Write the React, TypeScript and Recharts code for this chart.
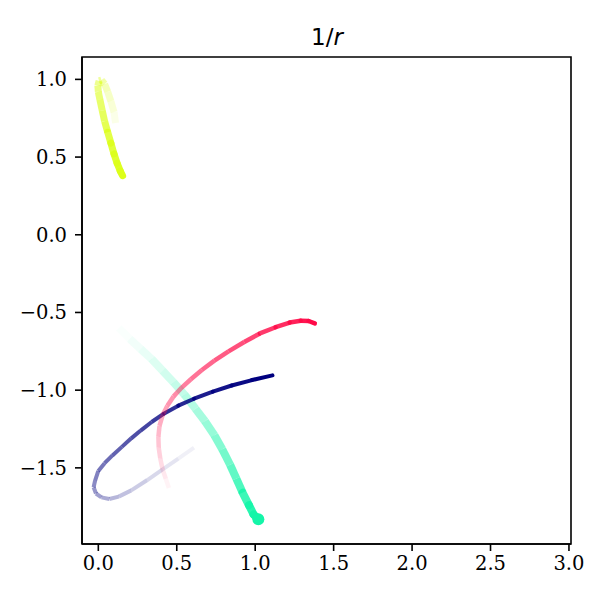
import React from 'react';
import { ComposedChart, Line, Scatter, XAxis, YAxis, ReferenceArea } from 'recharts';

// axis ticks
const xTicks = [0, 0.5, 1, 1.5, 2, 2.5, 3];
const yTicks = [-1.5, -1, -0.5, 0, 0.5, 1];

// trails, oldest point first, head last
const tealX = [0.13, 0.2, 0.27, 0.34, 0.41, 0.48, 0.55, 0.62, 0.68, 0.74, 0.79, 0.84, 0.88, 0.92, 0.96, 0.99, 1.02];
const tealY = [-0.6, -0.67, -0.735, -0.8, -0.875, -0.95, -1.03, -1.12, -1.2, -1.29, -1.38, -1.48, -1.57, -1.66, -1.74, -1.8, -1.83];

const navyX = [0.61, 0.51, 0.41, 0.31, 0.21, 0.13, 0.07, 0.02, -0.015, -0.03, -0.02, 0.0, 0.04, 0.09, 0.15, 0.21, 0.27, 0.34, 0.42, 0.51, 0.61, 0.73, 0.85, 0.98, 1.11];
const navyY = [-1.37, -1.44, -1.51, -1.58, -1.645, -1.685, -1.7, -1.69, -1.665, -1.625, -1.58, -1.52, -1.47, -1.42, -1.365, -1.31, -1.26, -1.205, -1.15, -1.1, -1.055, -1.01, -0.97, -0.935, -0.905];

const redX = [0.45, 0.43, 0.41, 0.395, 0.385, 0.383, 0.39, 0.41, 0.44, 0.48, 0.53, 0.59, 0.66, 0.74, 0.83, 0.93, 1.03, 1.13, 1.22, 1.29, 1.34, 1.38];
const redY = [-1.63, -1.57, -1.51, -1.44, -1.37, -1.3, -1.23, -1.16, -1.1, -1.04, -0.985, -0.93, -0.87, -0.81, -0.75, -0.69, -0.635, -0.595, -0.565, -0.553, -0.555, -0.57];

const yellowX = [0.11, 0.1, 0.08, 0.06, 0.04, 0.02, 0.005, -0.003, 0.0, 0.01, 0.025, 0.04, 0.06, 0.08, 0.1, 0.12, 0.14, 0.155];
const yellowY = [0.72, 0.79, 0.86, 0.92, 0.97, 0.995, 0.99, 0.96, 0.92, 0.87, 0.8, 0.73, 0.66, 0.59, 0.52, 0.46, 0.41, 0.38];

const trails = [
  { name: 'teal', xs: tealX, ys: tealY, color: '#14f5a8', width: 8, fade: 1.4 },
  { name: 'navy', xs: navyX, ys: navyY, color: '#00007f', width: 4, fade: 0.9 },
  { name: 'red', xs: redX, ys: redY, color: '#ff0a48', width: 4.5, fade: 1.0 },
  { name: 'yellow', xs: yellowX, ys: yellowY, color: '#dcff1a', width: 7, fade: 0.8 },
];

const X_DOMAIN: [number, number] = [-0.104, 3.013];
const Y_DOMAIN: [number, number] = [-1.99, 1.144];

const fmt = (v: number) => v.toFixed(1).replace('-', '\u2212');

const tickStyle = { fontFamily: 'DejaVu Serif', fontSize: 19.5, fill: '#000' };

const App: React.FC = () => {
  const segments: React.ReactNode[] = [];
  trails.forEach((t) => {
    const n = t.xs.length;
    for (let i = 0; i < n - 1; i++) {
      const alpha = Math.pow((i + 1) / (n - 1), t.fade);
      segments.push(
        <Line
          key={`${t.name}-${i}`}
          data={[
            { x: t.xs[i], y: t.ys[i] },
            { x: t.xs[i + 1], y: t.ys[i + 1] },
          ]}
          dataKey="y"
          type="linear"
          stroke={t.color}
          strokeOpacity={alpha}
          strokeWidth={t.width}
          strokeLinecap={alpha > 0.8 ? 'round' : 'butt'}
          dot={false}
          activeDot={false}
          isAnimationActive={false}
          legendType="none"
        />
      );
    }
  });

  return (
    <div style={{ position: 'absolute', left: 0, top: 0, width: 600, height: 600, background: '#fff' }}>
      <svg width={600} height={60} style={{ position: 'absolute', left: 0, top: 0 }}>
        <text x={327} y={45} textAnchor="middle" fontFamily="DejaVu Sans" fontSize={23} fill="#000">
          1/<tspan fontStyle="italic">r</tspan>
        </text>
      </svg>
      <div style={{ position: 'absolute', left: 0, top: 0 }}>
        <ComposedChart width={600} height={600} margin={{ top: 57, right: 29, bottom: 26, left: 0 }}>
          <XAxis
            dataKey="x"
            type="number"
            domain={X_DOMAIN}
            ticks={xTicks}
            tickFormatter={fmt}
            allowDataOverflow
            height={30}
            tickSize={7}
            tickMargin={5}
            tick={tickStyle}
            axisLine={{ stroke: '#000', strokeWidth: 1.6 }}
            tickLine={{ stroke: '#000', strokeWidth: 1.6 }}
          />
          <YAxis
            dataKey="y"
            type="number"
            domain={Y_DOMAIN}
            ticks={yTicks}
            tickFormatter={fmt}
            allowDataOverflow
            width={82}
            tickSize={7}
            tickMargin={8}
            tick={tickStyle}
            axisLine={{ stroke: '#000', strokeWidth: 1.6 }}
            tickLine={{ stroke: '#000', strokeWidth: 1.6 }}
          />
          <ReferenceArea
            x1={X_DOMAIN[0]}
            x2={X_DOMAIN[1]}
            y1={Y_DOMAIN[0]}
            y2={Y_DOMAIN[1]}
            fill="none"
            stroke="#000"
            strokeWidth={1.6}
          />
          {segments}
          <Scatter
            data={[{ x: tealX[tealX.length - 1], y: tealY[tealY.length - 1] }]}
            dataKey="y"
            fill="#14f5a8"
            isAnimationActive={false}
            shape={(p: any) => <circle cx={p.cx} cy={p.cy} r={6} fill="#14f5a8" />}
          />
        </ComposedChart>
      </div>
    </div>
  );
};

export default App;
